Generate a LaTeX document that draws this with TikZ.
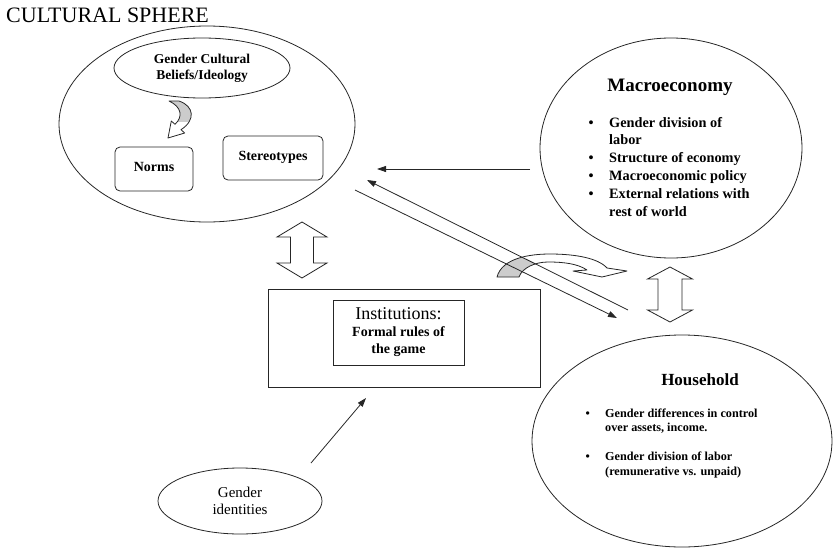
\documentclass[tikz,border=0pt]{standalone}
\usepackage{fontspec}
\setmainfont{Liberation Serif}
\usetikzlibrary{shapes.geometric,arrows.meta}
\newcommand\smallarrowpath{(169,101) -- (179,101) .. controls (194,106) and (196,120) .. (181,129.7) -- (184.7,133) -- (168,138) -- (171.3,121) -- (175,124.3) .. controls (183,117) and (182,107) .. cycle}
\newcommand\midarrowpath{(497,277) .. controls (502,258) and (530,254) .. (550,254) .. controls (575,254) and (598,258) .. (607,268) -- (627,271) -- (602,277) -- (573,271) -- (587,270) .. controls (578,264) and (565,262) .. (548,262) .. controls (535,262) and (522,268) .. (519,277) -- cycle}
\begin{document}
\begin{tikzpicture}[x=1pt,y=-1pt,
  ln/.style={line width=0.8pt, draw=black!85},
  oval/.style={ln, ellipse, inner sep=0pt},
  rbox/.style={ln, rounded corners=5pt, inner sep=0pt},
  sbox/.style={ln, inner sep=0pt},
  arr/.style={ln, -{Triangle[length=9pt,width=6pt]}},
  hollow/.style={ln, fill=white, line join=miter},
  bt/.style={font=\bfseries\fontsize{14}{17}\selectfont},
]
\useasboundingbox (0,0) rectangle (833,549);
\node[anchor=west, inner sep=0pt, font=\fontsize{22}{25}\selectfont] (title) at (6,15) {CULTURAL SPHERE};

% cultural sphere
\node[oval, minimum width=296pt, minimum height=196pt] (cult) at (207,124) {};
\node[oval, minimum width=176pt, minimum height=60pt, align=center, font=\bfseries\fontsize{13.5}{16}\selectfont] (beliefs) at (202,68) {Gender Cultural\\Beliefs/Ideology};
\node[rbox, bt, minimum width=78pt, minimum height=44pt] (norms) at (154,169) {\raisebox{5pt}{Norms}};
\node[rbox, bt, minimum width=100pt, minimum height=44pt] (stereo) at (273,158) {\raisebox{4pt}{Stereotypes}};

% small curved arrow
\fill[white] \smallarrowpath;
\begin{scope}
  \clip (0,0) rectangle (833,121);
  \fill[gray!40] \smallarrowpath;
\end{scope}
\draw[ln, line join=round] \smallarrowpath;

% left double arrow
\draw[hollow] (302,222) -- (327,237) -- (313.5,237) -- (313.5,263) -- (327,263) -- (302,278) -- (277,263) -- (290.5,263) -- (290.5,237) -- (277,237) -- cycle;

% institutions
\node[sbox, minimum width=272pt, minimum height=98pt] (inst) at (404,338) {};
\node[sbox, minimum width=131pt, minimum height=65pt, align=center, bt] (rules) at (398.5,332.5) {{\mdseries\fontsize{18}{18}\selectfont Institutions:}\\Formal rules of\\the game};

% gender identities
\node[oval, minimum width=164pt, minimum height=66pt, align=center, font=\fontsize{15}{17}\selectfont] (gid) at (240,501) {Gender\\identities};
\coordinate (gidA) at (311,463);
\coordinate (instA) at (366,398);
\draw[arr] (gidA) -- (instA);

% macroeconomy
\node[oval, minimum width=262pt, minimum height=220pt] (macro) at (671,148) {};
\node[font=\bfseries\fontsize{19}{22}\selectfont] (macrot) at (670,87) {Macroeconomy};
\node[anchor=north west, inner sep=0pt, font=\bfseries\fontsize{14.3}{17.8}\selectfont] (macrol) at (588.5,114.5) {%
\begin{tabular}{@{}l@{}l@{}}
\makebox[20.5pt][l]{•} & Gender division of\\
 & labor\\
\makebox[20.5pt][l]{•} & Structure of economy\\
\makebox[20.5pt][l]{•} & Macroeconomic policy\\
\makebox[20.5pt][l]{•} & External relations with\\
 & rest of world
\end{tabular}};

% household
\node[oval, minimum width=300pt, minimum height=212pt] (house) at (682,441) {};
\node[font=\bfseries\fontsize{17}{20}\selectfont] (houset) at (700,380) {Household};
\node[anchor=north west, inner sep=0pt, font=\bfseries\fontsize{12.2}{14.5}\selectfont] (housel) at (585.5,407) {%
\begin{tabular}{@{}l@{}l@{}}
\makebox[19.5pt][l]{•} & Gender differences in control\\
 & over assets, income.\\
 & \\
\makebox[19.5pt][l]{•} & Gender division of labor\\
 & (remunerative vs. unpaid)
\end{tabular}};

% right double arrow
\draw[hollow] (670,267) -- (692.5,279) -- (682,279) -- (682,310) -- (692.5,310) -- (670,322) -- (647.5,310) -- (658,310) -- (658,279) -- (647.5,279) -- cycle;

% middle curved arrow
\fill[white] \midarrowpath;
\begin{scope}
  \clip (300,146.6) -- (700,345.8) -- (700,549) -- (300,549) -- cycle;
  \fill[gray!40] \midarrowpath;
\end{scope}
\draw[ln, line join=round] \midarrowpath;

% connectors
\coordinate (macroW) at (530,169);
\coordinate (cultE) at (377,169);
\draw[arr] (macroW) -- (cultE);
\coordinate (houseNW) at (628,310);
\coordinate (cultSE) at (367,180);
\draw[arr] (houseNW) -- (cultSE);
\coordinate (cultSE2) at (355,190);
\coordinate (houseNW2) at (617,318);
\draw[arr] (cultSE2) -- (houseNW2);
\end{tikzpicture}
\end{document}
